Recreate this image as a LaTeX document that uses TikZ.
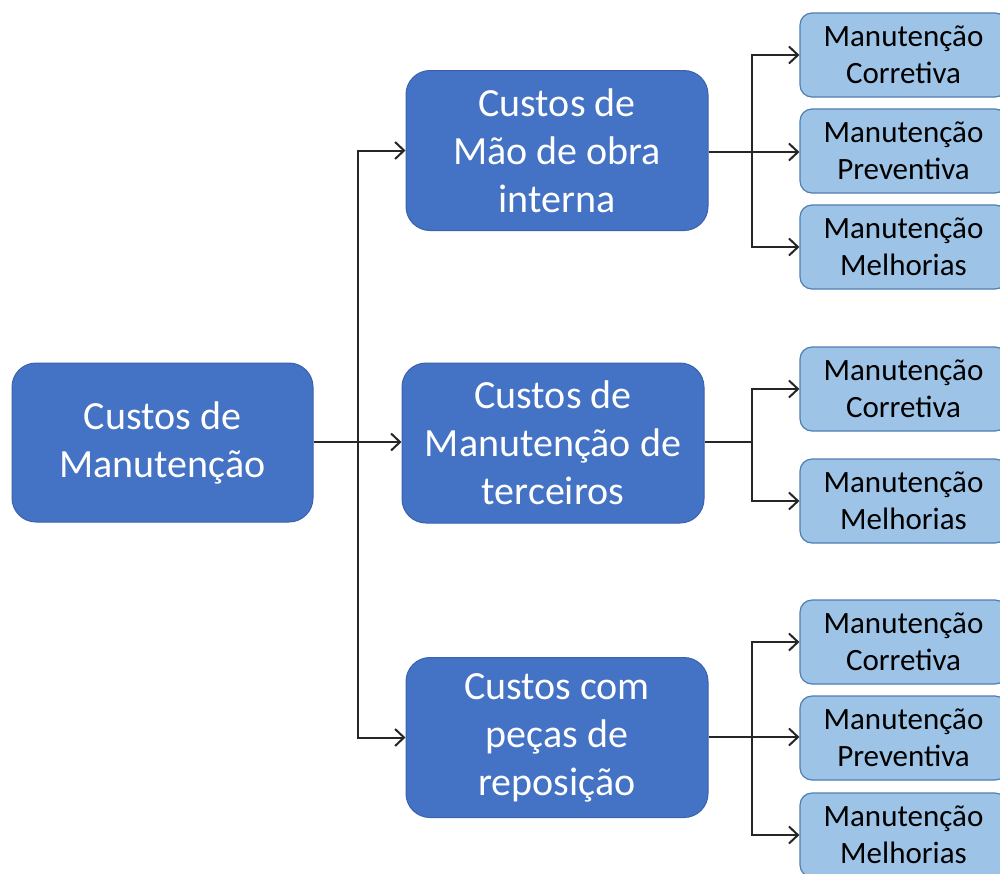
\documentclass[tikz,border=0pt]{standalone}
\usepackage{fontspec}
\setmainfont{Carlito}
\usetikzlibrary{arrows.meta}
\definecolor{bigfill}{HTML}{4472C4}
\definecolor{bigdraw}{HTML}{3A62AE}
\definecolor{smallfill}{HTML}{9DC3E6}
\definecolor{smalldraw}{HTML}{4F7EB3}
\definecolor{linecol}{HTML}{262626}
\tikzset{
  bigbox/.style={draw=bigdraw, line width=1pt, fill=bigfill, rounded corners=24pt,
    minimum width=302pt, minimum height=160pt, inner sep=0pt, align=center,
    text=white, font=\fontsize{40}{48}\selectfont},
  smallbox/.style={draw=smalldraw, line width=1.2pt, fill=smallfill, rounded corners=12pt,
    minimum width=207pt, minimum height=84pt, inner sep=0pt, align=center,
    text=black, font=\fontsize{31}{37}\selectfont},
  conn/.style={draw=linecol, line width=2pt},
  arr/.style={conn, -{Straight Barb[length=9pt,width=17pt,line width=2pt]}}
}
\begin{document}
\begin{tikzpicture}[x=1pt,y=-1pt]
\useasboundingbox (0,0) rectangle (1000,873);
\clip (0,0) rectangle (1000,873);
\fill[white] (0,0) rectangle (1000,873);
% root
\node[bigbox, minimum width=301pt, minimum height=159pt] (root) at (162.5,442.5) {Custos de\\Manutenção};
% mid
\node[bigbox] (m1) at (557,150.5) {Custos de\\Mão de obra\\interna};
\node[bigbox] (m2) at (553,443) {Custos de\\Manutenção de\\terceiros};
\node[bigbox] (m3) at (557,737.5) {Custos com\\peças de\\reposição};
% small
\node[smallbox] (s1) at (903.5,55) {Manutenção\\Corretiva};
\node[smallbox] (s2) at (903.5,151) {Manutenção\\Preventiva};
\node[smallbox] (s3) at (903.5,247) {Manutenção\\Melhorias};
\node[smallbox] (s4) at (903.5,389) {Manutenção\\Corretiva};
\node[smallbox] (s5) at (903.5,501) {Manutenção\\Melhorias};
\node[smallbox] (s6) at (903.5,642) {Manutenção\\Corretiva};
\node[smallbox] (s7) at (903.5,738) {Manutenção\\Preventiva};
\node[smallbox] (s8) at (903.5,835) {Manutenção\\Melhorias};
% junctions
\coordinate (j0) at (358,442);
\coordinate (j1) at (752,152);
\coordinate (j2) at (752,442);
\coordinate (j3) at (752,737);
% root connectors
\draw[conn] (root.east |- j0) -- (j0);
\draw[arr] (j0) -- (m2.west |- j0);
\draw[arr] (j0) |- (m1.west);
\draw[arr] (j0) |- (m3.west);
% m1
\draw[conn] (m1.east |- j1) -- (j1);
\draw[arr] (j1) |- (s1.west);
\draw[arr] (j1) -- (s2.west |- j1);
\draw[arr] (j1) |- (s3.west);
% m2
\draw[conn] (m2.east |- j2) -- (j2);
\draw[arr] (j2) |- (s4.west);
\draw[arr] (j2) |- (s5.west);
% m3
\draw[conn] (m3.east |- j3) -- (j3);
\draw[arr] (j3) |- (s6.west);
\draw[arr] (j3) -- (s7.west |- j3);
\draw[arr] (j3) |- (s8.west);
\end{tikzpicture}
\end{document}
